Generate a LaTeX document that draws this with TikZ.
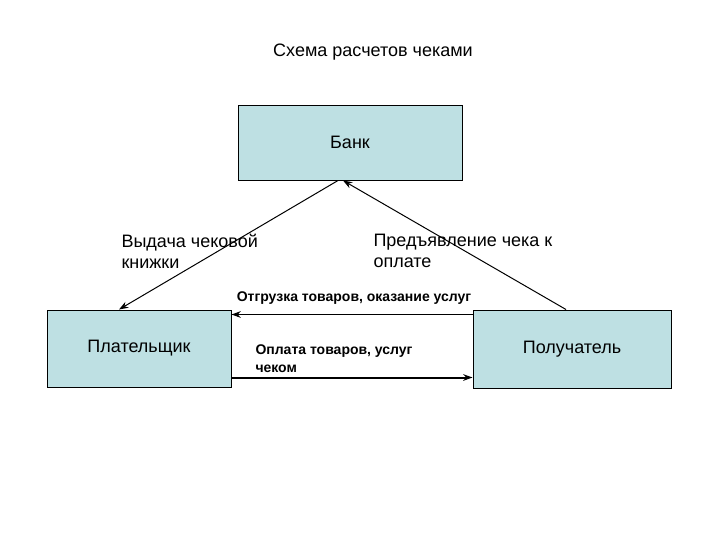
\documentclass[tikz,border=0pt]{standalone}
\usepackage{fontspec}
\setmainfont{Liberation Sans}
\usetikzlibrary{arrows.meta,calc}

\tikzset{every picture/.style={line width=0.75pt}}
\tikzset{
  party/.style={draw, fill={rgb, 255:red, 190; green, 224; blue, 227 }, fill opacity=1, inner sep=0pt},
  flow/.style={draw, -{Stealth[length=7pt,width=5pt]}},
  lbl/.style={font=\fontsize{13.5}{15.5}\selectfont, align=left, inner sep=0pt},
  sublbl/.style={font=\fontsize{10.5}{13.5}\selectfont\bfseries, align=left, inner sep=0pt}
}

\begin{document}
\begin{tikzpicture}[x=0.75pt,y=0.75pt,yscale=-1,xscale=1]
\useasboundingbox (0,0) rectangle (720,540);

%Title
\node [font=\fontsize{13.5}{16}\selectfont] (title) at (373,52) {Схема расчетов чеками};

%Boxes
\node [party, minimum width=224*0.75pt, minimum height=75*0.75pt, font=\fontsize{13.5}{16}\selectfont] (bank) at (350,142.5) {Банк};
\node [party, minimum width=184*0.75pt, minimum height=77*0.75pt, font=\fontsize{13.5}{16}\selectfont] (payer) at (139,348.5) {Плательщик};
\node [party, minimum width=198*0.75pt, minimum height=78*0.75pt, font=\fontsize{13.5}{16}\selectfont] (receiver) at (572,349) {Получатель};

%Diagonal arrows
\draw [flow] ($(bank.south)+(-12,0)$) -- ($(payer.north)+(-20,0)$);
\draw [flow] ($(receiver.north)+(-6,0)$) -- ($(bank.south)+(-7,0)$);

%Horizontal arrows
\draw [flow] ($(receiver.north west)+(0,5)$) -- ($(payer.north east)+(0,5)$);
\draw [flow, line width=1.5pt] ($(payer.south east)+(0,-10)$) -- ($(receiver.south west)+(0,-11)$);

%Labels
\node [lbl, anchor=west] (issue) at (121,251) {Выдача чековой\\книжки};
\node [lbl, anchor=west] (present) at (373,251) {Предъявление чека к\\оплате};
\node [sublbl] (ship) at (354,298) {Отгрузка товаров, оказание услуг};
\node [sublbl, anchor=west] (pay) at (255,359) {Оплата товаров, услуг\\чеком};

\end{tikzpicture}
\end{document}
